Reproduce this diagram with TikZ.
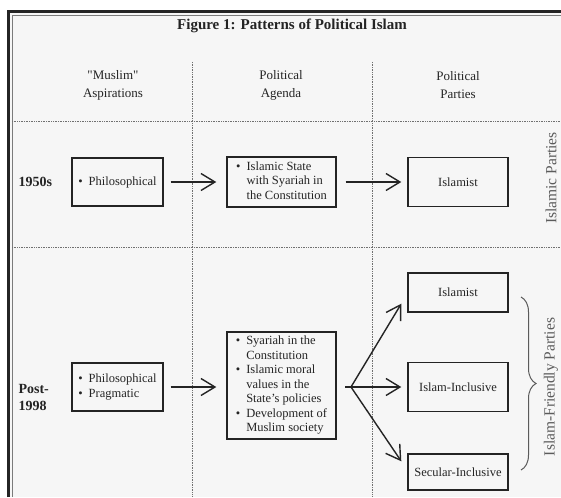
\documentclass[tikz,border=0pt]{standalone}
\usepackage{fontspec}
\setmainfont{Liberation Serif}
\usepackage{tikz}
\usetikzlibrary{arrows.meta, decorations.pathreplacing}

\definecolor{ink}{gray}{0.14}
\definecolor{paper}{gray}{0.965}

\begin{document}
\begin{tikzpicture}[x=1pt, y=-1pt,
    box/.style={draw=ink, line width=1.4pt, fill=paper, inner sep=0pt, text=ink, font=\fontsize{12.5}{14.5}\selectfont},
    grid/.style={ink!65, line width=0.7pt, densely dotted},
    arr/.style={ink, line width=1.4pt, -{Straight Barb[length=14pt,width=17pt]}},
    lab/.style={text=ink, font=\bfseries\fontsize{14}{17}\selectfont},
    head/.style={text=ink, align=center, font=\fontsize{13}{18}\selectfont},
    side/.style={text=ink!75, rotate=90, font=\fontsize{15.5}{18}\selectfont}]

    \useasboundingbox (0,0) rectangle (561,497);
    \fill[white] (0,0) rectangle (561,497);
    \fill[paper] (8,11) rectangle (561,497);
    \draw[ink, line width=3pt] (8.5,497) -- (8.5,11.5) -- (561,11.5); %外枠
    \draw[ink!60, line width=0.8pt] (12.5,497) -- (12.5,15) -- (561,15); %内枠

    \node[text=ink, font=\bfseries\fontsize{15}{18}\selectfont] (title) at (292,26) {Figure 1: Patterns of Political Islam};

    %点線の区切り
    \draw[grid] (12,121) -- (561,121);
    \draw[grid] (12,247) -- (561,247);
    \draw[grid] (192,62) -- (192,497);
    \draw[grid] (372,62) -- (372,497);

    \node[head] (hasp) at (113,85) {\textquotedbl Muslim\textquotedbl\\Aspirations};
    \node[head] (hagd) at (281,85) {Political\\Agenda};
    \node[head] (hpar) at (458,85) {Political\\Parties};

    %1950s の行
    \node[lab, anchor=west] (y1950) at (15,182) {1950s};
    \node[box, minimum width=91pt, minimum height=48pt] (asp1) at (117.5,182) {\textbullet\hspace{6pt}Philosophical};
    \node[box, minimum width=109pt, minimum height=50pt] (agd1) at (281.5,182) {\begin{tabular}{@{}l@{\hspace{6pt}}l@{}}\textbullet & Islamic State\\ & with Syariah in\\ & the Constitution\end{tabular}};
    \node[box, minimum width=100pt, minimum height=49pt] (par1) at (458,182) {Islamist};
    \draw[arr] ([xshift=7pt]asp1.east) -- ([xshift=-10pt]agd1.west);
    \draw[arr] ([xshift=9pt]agd1.east) -- ([xshift=-6pt]par1.west);
    \node[side] (islamic) at (551,178) {Islamic Parties};

    %Post-1998 の行
    \node[lab, anchor=west, align=left] (y1998) at (15,397) {Post-\\1998};
    \node[box, minimum width=91pt, minimum height=48pt] (asp2) at (117.5,387) {\begin{tabular}{@{}l@{\hspace{6pt}}l@{}}\textbullet & Philosophical\\ \textbullet & Pragmatic\end{tabular}};
    \node[box, minimum width=109pt, minimum height=107pt] (agd2) at (281.5,385.5) {\begin{tabular}{@{}l@{\hspace{6pt}}l@{}}\textbullet & Syariah in the\\ & Constitution\\ \textbullet & Islamic moral\\ & values in the\\ & State's policies\\ \textbullet & Development of\\ & Muslim society\end{tabular}};
    \node[box, minimum width=100pt, minimum height=39pt] (par2a) at (458,292.5) {Islamist};
    \node[box, minimum width=100pt, minimum height=49pt] (par2b) at (458,387) {Islam-Inclusive};
    \node[box, minimum width=100pt, minimum height=36pt] (par2c) at (458,472) {Secular-Inclusive};

    \coordinate (in2) at (asp2.east -| agd2.west);
    \coordinate (fanin) at (345,387);
    \coordinate (split) at (351,387);
    \draw[arr] ([xshift=7pt]asp2.east) -- ([xshift=-10pt]in2);
    \draw[ink, line width=1.4pt] (fanin) -- (split); %枝分かれ
    \draw[arr] (split) -- ([shift={(-6pt,9pt)}]par2a.south west);
    \draw[arr] (split) -- ([xshift=-6pt]par2b.west);
    \draw[arr] (split) -- ([shift={(-6pt,-8pt)}]par2c.north west);

    \draw[ink!75, line width=1pt, decorate, decoration={brace, amplitude=15pt}] (521,297) -- (521,470);
    \node[side] (friendly) at (551,387) {Islam-Friendly Parties};
\end{tikzpicture}
\end{document}
